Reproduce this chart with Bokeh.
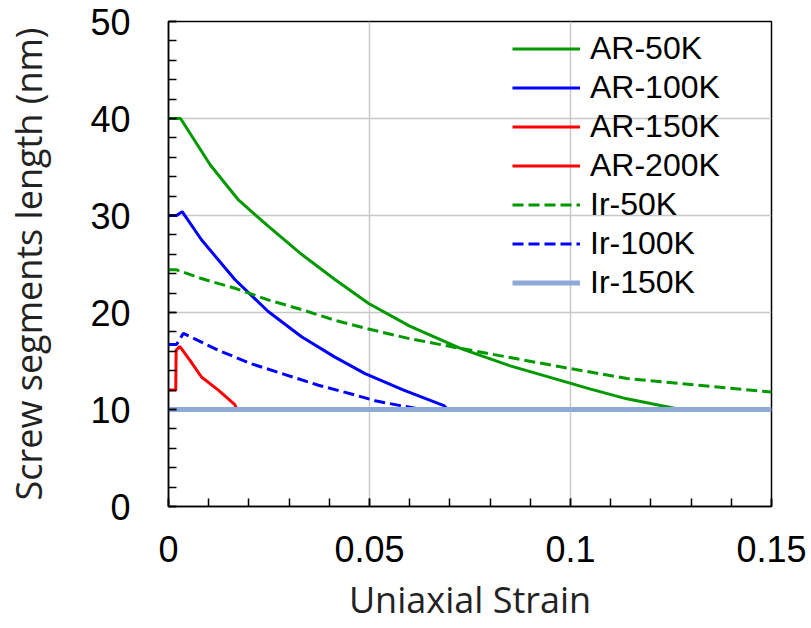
from bokeh.plotting import figure
from bokeh.models import Range1d, FixedTicker, Legend, LegendItem
from bokeh.embed import file_html
from bokeh.resources import INLINE

# ---- data ----
x_ticks = [0, 0.05, 0.1, 0.15]
x_tick_labels = ["0", "0.05", "0.1", "0.15"]
y_ticks = [0, 10, 20, 30, 40, 50]

ar50_x = [0, 0.003, 0.0104, 0.0174, 0.0248, 0.0331, 0.0414, 0.0497, 0.060, 0.0726, 0.085, 0.0975, 0.105, 0.114, 0.1274]
ar50_y = [40, 40, 35.2, 31.6, 28.9, 26.0, 23.4, 20.95, 18.6, 16.3, 14.5, 13.0, 12.1, 11.1, 10.0]

ar100_x = [0, 0.002, 0.0034, 0.0082, 0.0165, 0.0248, 0.0331, 0.0414, 0.0489, 0.0585, 0.0685, 0.0695]
ar100_y = [30, 30, 30.4, 27.5, 23.4, 20.1, 17.5, 15.4, 13.7, 12.0, 10.4, 10.0]

ar150_x = [0, 0.0018, 0.0019, 0.0028, 0.0053, 0.0082, 0.0124, 0.0165, 0.017]
ar150_y = [12.0, 12.0, 16.1, 16.5, 15.1, 13.35, 12.0, 10.5, 10.0]

ar200_x = [0, 0.15]
ar200_y = [10, 10]

ir50_x = [0, 0.002, 0.0082, 0.0165, 0.0248, 0.0331, 0.0414, 0.0497, 0.060, 0.0726, 0.0975, 0.114, 0.127, 0.15]
ir50_y = [24.4, 24.4, 23.5, 22.5, 21.3, 20.3, 19.2, 18.3, 17.3, 16.3, 14.4, 13.2, 12.7, 11.8]

ir100_x = [0, 0.002, 0.0037, 0.0124, 0.0207, 0.029, 0.0373, 0.0464, 0.0514, 0.0577, 0.063]
ir100_y = [16.7, 16.7, 17.85, 16.1, 14.7, 13.6, 12.5, 11.5, 10.9, 10.4, 10.0]

ir150_x = [0, 0.15]
ir150_y = [10, 10]

GREEN = "#009900"
BLUE = "#0000FF"
RED = "#FF0000"
STEEL = "#8EA9D8"

p = figure(width=811, height=628, output_backend="svg", toolbar_location=None,
           x_range=Range1d(0, 0.15), y_range=Range1d(0, 50),
           min_border_left=168, min_border_right=40, min_border_top=21,
           min_border_bottom=122)

p.background_fill_color = "white"
p.border_fill_color = "white"
p.outline_line_color = "black"
p.outline_line_width = 1.5

# grid
p.xgrid.grid_line_color = "#c8c8c8"
p.ygrid.grid_line_color = "#c8c8c8"
p.xgrid.grid_line_width = 1.5
p.ygrid.grid_line_width = 1.5

# axes
p.xaxis.ticker = FixedTicker(ticks=x_ticks, minor_ticks=[i / 100 for i in range(16)])
p.yaxis.ticker = FixedTicker(ticks=y_ticks, minor_ticks=list(range(0, 51, 2)))
p.xaxis.major_label_overrides = {t: l for t, l in zip(x_ticks, x_tick_labels)}
for ax in (p.xaxis[0], p.yaxis[0]):
    ax.axis_line_color = "black"
    ax.axis_line_width = 1.5
    ax.major_tick_in = 8
    ax.major_tick_out = 0
    ax.minor_tick_in = 8
    ax.minor_tick_out = 0
    ax.major_tick_line_color = "black"
    ax.minor_tick_line_color = "black"
    ax.major_tick_line_width = 1.5
    ax.minor_tick_line_width = 1.5
    ax.major_label_text_font = "Liberation Sans"
    ax.major_label_text_font_size = "36px"
    ax.major_label_text_color = "black"
    ax.axis_label_text_font = "Open Sans"
    ax.axis_label_text_font_size = "36px"
    ax.axis_label_text_font_style = "normal"
    ax.axis_label_text_color = "#222222"

p.xaxis.axis_label = "Uniaxial Strain"
p.yaxis.axis_label = "Screw segments length (nm)"
p.xaxis.major_label_standoff = 29
p.yaxis.major_label_standoff = 38
p.xaxis.axis_label_standoff = 10
p.yaxis.axis_label_standoff = 34

# lines
r_ar50 = p.line(ar50_x, ar50_y, line_color=GREEN, line_width=3)
r_ar100 = p.line(ar100_x, ar100_y, line_color=BLUE, line_width=3)
r_ar200 = p.line(ar200_x, ar200_y, line_color=RED, line_width=3)
r_ar150 = p.line(ar150_x, ar150_y, line_color=RED, line_width=3)
r_ir50 = p.line(ir50_x, ir50_y, line_color=GREEN, line_width=3, line_dash="11 5")
r_ir100 = p.line(ir100_x, ir100_y, line_color=BLUE, line_width=3, line_dash="11 5")
r_ir150 = p.line(ir150_x, ir150_y, line_color=STEEL, line_width=5)

legend = Legend(items=[
    LegendItem(label="AR-50K", renderers=[r_ar50]),
    LegendItem(label="AR-100K", renderers=[r_ar100]),
    LegendItem(label="AR-150K", renderers=[r_ar150]),
    LegendItem(label="AR-200K", renderers=[r_ar200]),
    LegendItem(label="Ir-50K", renderers=[r_ir50]),
    LegendItem(label="Ir-100K", renderers=[r_ir100]),
    LegendItem(label="Ir-150K", renderers=[r_ir150]),
], location=(344, 204))
legend.background_fill_alpha = 0
legend.border_line_alpha = 0
legend.padding = 0
legend.margin = 0
legend.spacing = 0
legend.glyph_width = 68
legend.glyph_height = 39
legend.label_height = 39
legend.label_standoff = 10
legend.label_text_font = "Liberation Sans"
legend.label_text_font_size = "32px"
legend.label_text_color = "black"
p.add_layout(legend, "center")

open("out.html", "w").write(file_html(p, INLINE))
